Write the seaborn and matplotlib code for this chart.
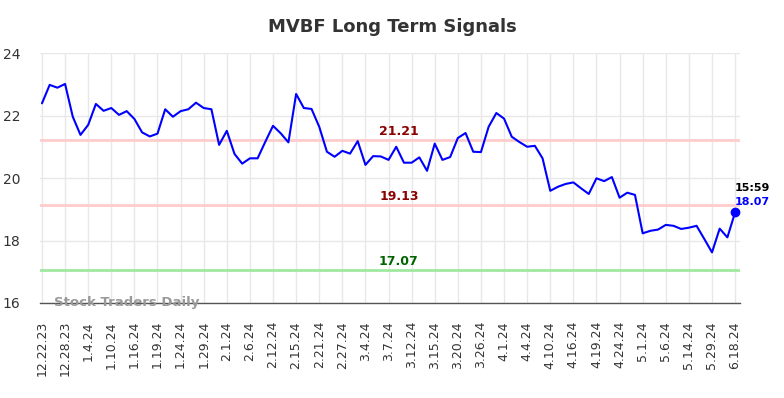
import matplotlib
matplotlib.use('Agg')
import matplotlib.pyplot as plt
import matplotlib.transforms as mtransforms
import seaborn as sns
import pandas as pd

# Closing values (one per trading day shown)
values = [
    22.39, 22.98, 22.89, 23.01, 21.96, 21.38, 21.70, 22.37, 22.15, 22.24,
    22.02, 22.14, 21.89, 21.46, 21.33, 21.42, 22.20, 21.96, 22.14, 22.20,
    22.41, 22.24, 22.20, 21.06, 21.51, 20.77, 20.46, 20.63, 20.63, 21.16,
    21.67, 21.43, 21.14, 22.69, 22.24, 22.21, 21.64, 20.84, 20.68, 20.87,
    20.78, 21.18, 20.42, 20.70, 20.69, 20.58, 21.00, 20.49, 20.49, 20.66,
    20.23, 21.10, 20.58, 20.67, 21.28, 21.44, 20.84, 20.83, 21.64, 22.08,
    21.90, 21.32, 21.15, 21.00, 21.03, 20.63, 19.59, 19.72, 19.81, 19.86,
    19.67, 19.49, 19.99, 19.90, 20.03, 19.37, 19.53, 19.46, 18.23, 18.31,
    18.35, 18.50, 18.47, 18.37, 18.41, 18.47, 18.05, 17.62, 18.38, 18.10,
    18.90,
]

# every third day is labelled on the x axis
tick_labels = [
    '12.22.23', '12.28.23', '1.4.24', '1.10.24', '1.16.24', '1.19.24', '1.24.24',
    '1.29.24', '2.1.24', '2.6.24', '2.12.24', '2.15.24', '2.21.24', '2.27.24',
    '3.4.24', '3.7.24', '3.12.24', '3.15.24', '3.20.24', '3.26.24', '4.1.24',
    '4.4.24', '4.10.24', '4.16.24', '4.19.24', '4.24.24', '5.1.24', '5.6.24',
    '5.14.24', '5.29.24', '6.18.24',
]
tick_step = 3

# signal levels
levels = [21.21, 19.13, 17.07]
level_line_colors = ['#ffcccc', '#ffcccc', '#a0e8a0']
level_text_colors = ['#8b0000', '#8b0000', '#006400']

last_time = '15:59'
last_label = '18.07'

df = pd.DataFrame({'idx': range(len(values)), 'close': values})

sns.set_style('whitegrid')
plt.rcParams['font.family'] = ['DejaVu Sans']

fig = plt.figure(figsize=(7.84, 3.98), dpi=100)
ax = fig.add_axes([0.0504, 0.2387, 0.8936, 0.6281])

for lv, lc in zip(levels, level_line_colors):
    ax.axhline(lv, color=lc, lw=2, zorder=1)

sns.lineplot(data=df, x='idx', y='close', color='#0000ff', lw=1.5, ax=ax, zorder=3)
ax.plot(df['idx'].iloc[-1], df['close'].iloc[-1], 'o', color='#0000ff', ms=6, zorder=4)

# level labels
trans = mtransforms.blended_transform_factory(ax.transAxes, ax.transData)
for lv, tc in zip(levels, level_text_colors):
    ax.annotate(f'{lv:.2f}', xy=(0.513, lv), xycoords=trans, xytext=(0, 2),
                textcoords='offset pixels', ha='center', va='bottom',
                fontsize=9, fontweight='bold', color=tc)

# last value annotation
lx, ly = df['idx'].iloc[-1], df['close'].iloc[-1]
ax.annotate(last_time, xy=(lx, ly), xytext=(0, 24), textcoords='offset pixels',
            ha='left', va='center', fontsize=8, fontweight='bold', color='black',
            annotation_clip=False)
ax.annotate(last_label, xy=(lx, ly), xytext=(0, 10), textcoords='offset pixels',
            ha='left', va='center', fontsize=8, fontweight='bold', color='#0000ff',
            annotation_clip=False)

ax.text(0.02, 0.0, 'Stock Traders Daily', transform=ax.transAxes, ha='left',
        va='center', fontsize=9.5, fontweight='bold', color='#999999', zorder=5)

ax.set_xlim(-0.32, len(values) - 1 + 0.65)
ax.set_ylim(16, 24)
ax.set_yticks([16, 18, 20, 22, 24])
ax.set_xticks(range(0, len(values), tick_step))
ax.set_xticklabels(tick_labels, rotation=90)
ax.tick_params(axis='x', length=0, pad=13, labelsize=9, labelcolor='#333333')
ax.tick_params(axis='y', length=0, pad=14, labelsize=10, labelcolor='#333333')
ax.set_xlabel('')
ax.set_ylabel('')
ax.grid(True, color='#e8e8e8', lw=1)

for s in ['left', 'right', 'top']:
    ax.spines[s].set_visible(False)
ax.spines['bottom'].set_color('#555555')
ax.spines['bottom'].set_linewidth(1)

fig.suptitle('MVBF Long Term Signals', x=0.5, y=0.955, fontsize=13,
             fontweight='bold', color='#333333')

fig.savefig('out.png', dpi=100, facecolor='white')
